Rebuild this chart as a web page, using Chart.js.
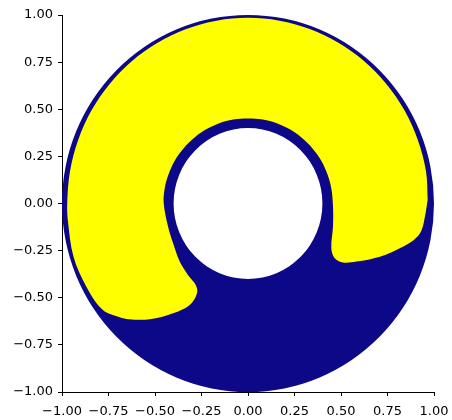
<!DOCTYPE html>
<html>
<head>
<meta charset="utf-8">
<script src="https://cdn.jsdelivr.net/npm/chart.js@4/dist/chart.umd.min.js"></script>
<style>
  html, body { margin: 0; padding: 0; background: #fff; }
  #wrap { width: 452px; height: 420px; }
</style>
</head>
<body>
<div id="wrap"><canvas id="donut"></canvas></div>
<script>
// axis ticks (both axes)
const tickValues = [-1, -0.75, -0.5, -0.25, 0, 0.25, 0.5, 0.75, 1];

// annulus: inner and outer radius
const ringRadii = [0.4, 1.0];

// yellow region boundary (goes round once)
const yellowX = [
  0.966, 0.957, 0.913, 0.842, 0.745, 0.625, 0.486, 0.332, 0.169, 0.000,
  -0.169, -0.332, -0.486, -0.625, -0.745, -0.842, -0.913, -0.957, -0.972, -0.967,
  -0.938, -0.869, -0.780, -0.690, -0.640, -0.528, -0.403, -0.313, -0.274, -0.281,
  -0.323, -0.367, -0.403, -0.430, -0.453, -0.448, -0.427, -0.394, -0.348, -0.292,
  -0.227, -0.155, -0.079, 0.000, 0.079, 0.155, 0.227, 0.292, 0.348, 0.394,
  0.427, 0.448, 0.457, 0.457, 0.448, 0.466, 0.511, 0.583, 0.709, 0.816,
  0.890, 0.932, 0.955
];
const yellowY = [
  0.020, 0.171, 0.337, 0.493, 0.633, 0.755, 0.853, 0.926, 0.970, 0.985,
  0.970, 0.926, 0.853, 0.755, 0.633, 0.493, 0.337, 0.171, 0.000, -0.104,
  -0.282, -0.441, -0.565, -0.603, -0.614, -0.614, -0.582, -0.538, -0.476, -0.432,
  -0.379, -0.308, -0.210, -0.122, 0.000, 0.079, 0.155, 0.227, 0.291, 0.346,
  0.392, 0.426, 0.446, 0.451, 0.446, 0.426, 0.392, 0.346, 0.291, 0.227,
  0.155, 0.079, -0.016, -0.122, -0.237, -0.290, -0.313, -0.308, -0.282, -0.237,
  -0.195, -0.145, -0.050
];

const BLUE = '#0d0887';
const YELLOW = '#ffff00';

const ringPlugin = {
  id: 'ring',
  beforeDatasetsDraw(chart) {
    const { ctx, scales: { x, y } } = chart;
    const cx = x.getPixelForValue(0);
    const cy = y.getPixelForValue(0);
    ctx.save();
    ctx.beginPath();
    ringRadii.forEach(r => {
      const rx = x.getPixelForValue(r) - cx;
      const ry = cy - y.getPixelForValue(r);
      ctx.moveTo(cx + rx, cy);
      ctx.ellipse(cx, cy, rx, ry, 0, 0, 2 * Math.PI);
    });
    ctx.fillStyle = BLUE;
    ctx.fill('evenodd');
    ctx.restore();
  }
};

const fmt = v => v.toFixed(2).replace('-', '\u2212');

const axisCommon = (pad) => ({
  type: 'linear',
  min: -1,
  max: 1,
  afterBuildTicks: s => { s.ticks = tickValues.map(v => ({ value: v })); },
  grid: { drawOnChartArea: false, drawTicks: true, tickLength: 4, color: '#000', lineWidth: 1 },
  border: { display: true, color: '#000', width: 1 },
  ticks: {
    color: '#000',
    font: { family: 'DejaVu Sans', size: 13 },
    padding: pad,
    autoSkip: false,
    maxRotation: 0,
    callback: v => fmt(v)
  }
});

new Chart(document.getElementById('donut'), {
  type: 'scatter',
  data: {
    datasets: [{
      data: yellowX.map((v, i) => ({ x: v, y: yellowY[i] })),
      showLine: true,
      fill: 'shape',
      backgroundColor: YELLOW,
      borderColor: 'rgba(0,0,0,0)',
      borderWidth: 1,
      pointRadius: 0,
      tension: 0.35
    }]
  },
  options: {
    responsive: true,
    maintainAspectRatio: false,
    animation: false,
    events: [],
    layout: { padding: { left: 0, right: 18, top: 15, bottom: 0 } },
    plugins: { legend: { display: false }, tooltip: { enabled: false } },
    scales: {
      x: {
        ...axisCommon(8),
        afterFit: s => { s.height = 28; s.paddingLeft = 0; s.paddingRight = 0; }
      },
      y: {
        ...axisCommon(5),
        afterFit: s => { s.width = 62; s.paddingTop = 0; s.paddingBottom = 0; }
      }
    }
  },
  plugins: [ringPlugin]
});
</script>
</body>
</html>
